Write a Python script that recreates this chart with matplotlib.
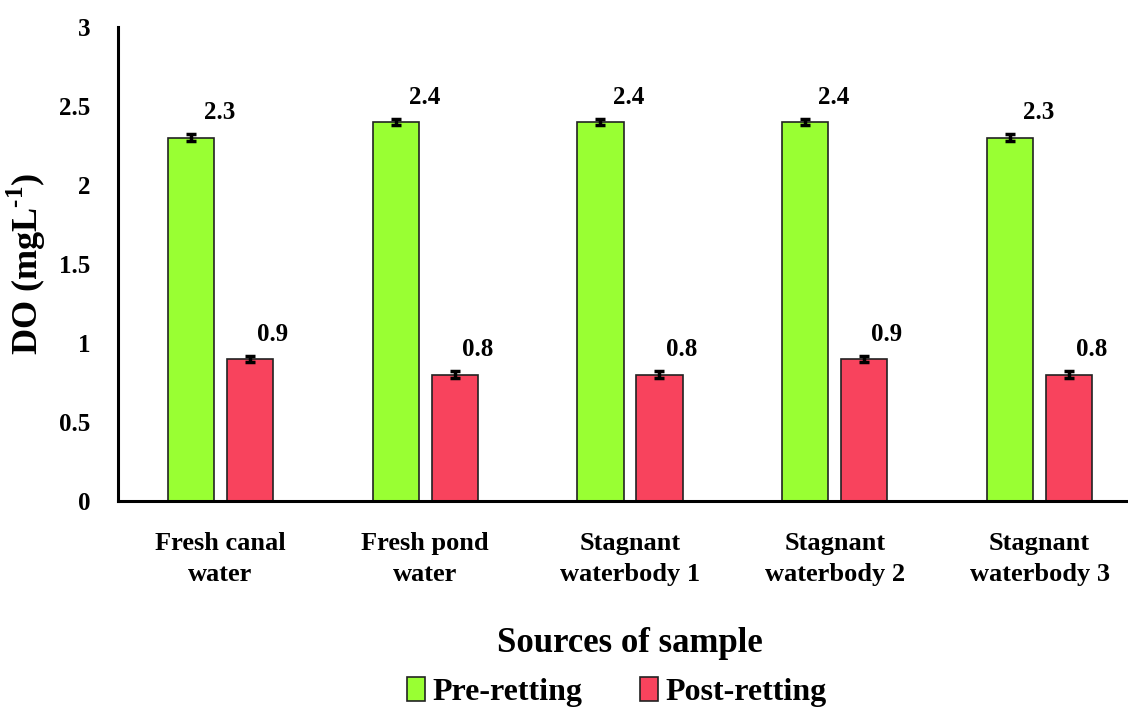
import numpy as np
import matplotlib
matplotlib.use('Agg')
import matplotlib.pyplot as plt

# data
sources = ['Fresh canal\nwater', 'Fresh pond\nwater', 'Stagnant\nwaterbody 1',
           'Stagnant\nwaterbody 2', 'Stagnant\nwaterbody 3']
pre_retting = [2.3, 2.4, 2.4, 2.4, 2.3]
post_retting = [0.9, 0.8, 0.8, 0.9, 0.8]
pre_err = [0.02, 0.02, 0.02, 0.02, 0.02]
post_err = [0.02, 0.02, 0.02, 0.02, 0.02]
yticks = [0, 0.5, 1, 1.5, 2, 2.5, 3]
yticklabels = ['0', '0.5', '1', '1.5', '2', '2.5', '3']

plt.rcParams['font.family'] = ['Liberation Serif', 'DejaVu Serif']
plt.rcParams['font.weight'] = 'bold'
plt.rcParams['mathtext.fontset'] = 'custom'
plt.rcParams['mathtext.rm'] = 'Liberation Serif:bold'
plt.rcParams['mathtext.bf'] = 'Liberation Serif:bold'

green = '#99FF33'
red = '#F8435D'

fig = plt.figure(figsize=(11.28, 7.10), dpi=100)
ax = fig.add_axes([0.1046, 0.2944, 0.9078, 0.6676])

x = np.arange(len(sources))
w = 0.225
off = 0.144
ax.bar(x - off, pre_retting, w, color=green, edgecolor='#222222', linewidth=1.2,
       yerr=pre_err, error_kw=dict(ecolor='black', elinewidth=2.5, capsize=3.5, capthick=2.5),
       label='Pre-retting', zorder=2)
ax.bar(x + off, post_retting, w, color=red, edgecolor='#222222', linewidth=1.2,
       yerr=post_err, error_kw=dict(ecolor='black', elinewidth=2.5, capsize=3.5, capthick=2.5),
       label='Post-retting', zorder=2)

for i in range(len(sources)):
    ax.text(x[i] - off + 0.14, pre_retting[i] + 0.115, '%.1f' % pre_retting[i],
            ha='center', va='baseline', fontsize=18, fontweight='bold')
    ax.text(x[i] + off + 0.11, post_retting[i] + 0.115, '%.1f' % post_retting[i],
            ha='center', va='baseline', fontsize=18, fontweight='bold')

ax.set_xlim(-0.5, 4.5)
ax.set_ylim(0, 3)
ax.set_yticks(yticks)
ax.set_yticklabels(yticklabels, fontsize=18, fontweight='bold')
ax.set_xticks(x)
ax.set_xticklabels(sources, fontsize=19, fontweight='bold', linespacing=1.45)
ax.tick_params(axis='y', length=0, pad=20)
ax.tick_params(axis='x', length=0, pad=22)

for s in ['top', 'right']:
    ax.spines[s].set_visible(False)
for s in ['left', 'bottom']:
    ax.spines[s].set_linewidth(2.2)
    ax.spines[s].set_color('black')

ax.set_ylabel(r'DO (mgL$^{\text{-1}}$)', fontsize=26, fontweight='bold')
ax.yaxis.set_label_coords(-0.068, 0.5)
ax.set_xlabel('Sources of sample', fontsize=25, fontweight='bold', labelpad=30)

fig.legend(loc='center', bbox_to_anchor=(617 / 1128, 1 - 692 / 710), ncol=2,
           frameon=False, fontsize=23, handlelength=0.55, handleheight=0.8,
           handletextpad=0.25, columnspacing=1.8)

fig.savefig('out.png', dpi=100)
